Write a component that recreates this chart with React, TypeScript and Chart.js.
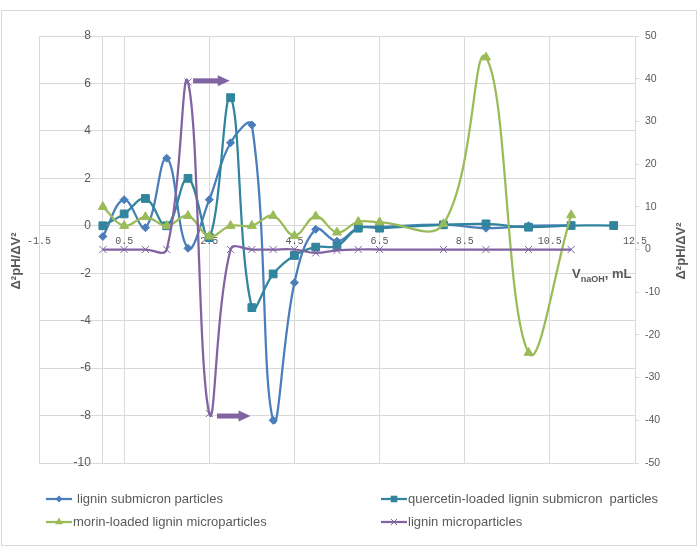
import React, { useEffect, useRef } from 'react';
import { Chart, registerables } from 'chart.js';

Chart.register(...registerables);

// ---------- data ----------
const xTickValues = [-1.5, 0.5, 2.5, 4.5, 6.5, 8.5, 10.5, 12.5];
const xTickLabels = ['-1.5', '0.5', '2.5', '4.5', '6.5', '8.5', '10.5', '12.5'];

const seriesNames = [
  'lignin submicron particles',
  'quercetin-loaded lignin submicron  particles',
  'morin-loaded lignin microparticles',
  'lignin microparticles',
];

const blueX = [0, 0.5, 1, 1.5, 2, 2.5, 3, 3.5, 4, 4.5, 5, 5.5, 6, 6.5, 8, 9, 10, 11];
const blueY = [-0.45, 1.1, -0.08, 2.85, -0.95, 1.1, 3.5, 4.25, -8.2, -2.4, -0.15, -0.65, -0.1, -0.05, 0.05, -0.1, 0.0, 0.02];

const tealX = [0, 0.5, 1, 1.5, 2, 2.5, 3, 3.5, 4, 4.5, 5, 5.5, 6, 6.5, 8, 9, 10, 11, 12];
const tealY = [0, 0.5, 1.15, 0, 2.0, -0.5, 5.4, -3.45, -2.03, -1.25, -0.9, -0.85, -0.1, -0.1, 0.04, 0.08, -0.06, 0.01, 0.01];

const greenX = [0, 0.5, 1, 1.5, 2, 2.5, 3, 3.5, 4, 4.5, 5, 5.5, 6, 6.5, 8, 9, 10, 11];
const greenY = [0.8, 0, 0.37, 0, 0.42, -0.45, 0, 0, 0.42, -0.42, 0.4, -0.28, 0.17, 0.15, 0.08, 7.1, -5.35, 0.45];

const purpleX = [0, 0.5, 1, 1.5, 2, 2.5, 3, 3.5, 4, 4.5, 5, 5.5, 6, 6.5, 8, 9, 10, 11];
const purpleY = [0, 0, 0, 0, 39.2, -38.4, 0, 0, 0, 0, -0.8, -0.2, 0, 0, 0, 0, 0, 0];

// annotation arrows (data coordinates, right axis)
const arrowFromX = [2.12, 2.68];
const arrowToX = [2.98, 3.47];
const arrowY1 = [39.5, -39];

const yTitle = 'Δ²pH/ΔV²';

// ---------- styles ----------
const COLORS = ['#4A7EBB', '#31859C', '#9BBB59', '#8064A2'];
const STYLES = ['rectRot', 'rect', 'triangle', 'crossRot'];
const RADII = [4, 5.5, 5.2, 5];
const GRID = '#D9D9D9';
const TEXT = '#595959';
const SANS = '"Liberation Sans", Arial, sans-serif';

const zip = (xs: number[], ys: number[]) => xs.map((x, i) => ({ x, y: ys[i] }));

function drawMarker(ctx: CanvasRenderingContext2D, style: string, x: number, y: number, r: number, color: string) {
  ctx.save();
  ctx.fillStyle = color;
  ctx.strokeStyle = color;
  ctx.lineWidth = 1;
  ctx.beginPath();
  if (style === 'rectRot') {
    ctx.moveTo(x, y - r);
    ctx.lineTo(x + r, y);
    ctx.lineTo(x, y + r);
    ctx.lineTo(x - r, y);
    ctx.closePath();
    ctx.fill();
  } else if (style === 'rect') {
    const s = r * Math.SQRT1_2;
    ctx.rect(x - s, y - s, 2 * s, 2 * s);
    ctx.fill();
  } else if (style === 'triangle') {
    const h = r * 1.5;
    const w = r * Math.sqrt(3) / 2;
    ctx.moveTo(x, y - r);
    ctx.lineTo(x + w, y + h - r);
    ctx.lineTo(x - w, y + h - r);
    ctx.closePath();
    ctx.fill();
  } else {
    const d = r * Math.SQRT1_2;
    ctx.moveTo(x - d, y - d);
    ctx.lineTo(x + d, y + d);
    ctx.moveTo(x - d, y + d);
    ctx.lineTo(x + d, y - d);
    ctx.stroke();
  }
  ctx.restore();
}

const decorPlugin = {
  id: 'decor',
  beforeDraw(chart: any) {
    const ctx = chart.ctx as CanvasRenderingContext2D;
    ctx.save();
    ctx.fillStyle = '#ffffff';
    ctx.fillRect(0, 0, chart.width, chart.height);
    ctx.strokeStyle = GRID;
    ctx.lineWidth = 1;
    ctx.strokeRect(1.5, 10.5, 695, 535);
    ctx.restore();
  },
  afterDatasetsDraw(chart: any) {
    // left axis tick labels, placed left of the axis line at x = 0
    const ctx = chart.ctx as CanvasRenderingContext2D;
    const xs = chart.scales.x;
    const ys = chart.scales.y;
    const ax = xs.getPixelForValue(0);
    ctx.save();
    ctx.fillStyle = TEXT;
    ctx.font = `12px ${SANS}`;
    ctx.textAlign = 'right';
    ctx.textBaseline = 'middle';
    ys.ticks.forEach((t: any) => {
      ctx.fillText(String(t.value), ax - 12, ys.getPixelForValue(t.value));
    });
    ctx.restore();
  },
  afterDraw(chart: any) {
    const ctx = chart.ctx as CanvasRenderingContext2D;
    const xs = chart.scales.x;
    const y1 = chart.scales.y1;

    // arrows
    ctx.save();
    ctx.fillStyle = COLORS[3];
    arrowFromX.forEach((fx, i) => {
      const x0 = xs.getPixelForValue(fx);
      const x1 = xs.getPixelForValue(arrowToX[i]);
      const y = y1.getPixelForValue(arrowY1[i]);
      const head = 12;
      ctx.fillRect(x0, y - 2.5, x1 - x0 - head + 1, 5);
      ctx.beginPath();
      ctx.moveTo(x1, y);
      ctx.lineTo(x1 - head, y - 5.5);
      ctx.lineTo(x1 - head, y + 5.5);
      ctx.closePath();
      ctx.fill();
    });
    ctx.restore();

    // axis titles
    ctx.save();
    ctx.fillStyle = TEXT;
    ctx.font = `bold 13px ${SANS}`;
    ctx.textAlign = 'center';
    ctx.textBaseline = 'middle';
    ctx.save();
    ctx.translate(16, 261);
    ctx.rotate(-Math.PI / 2);
    ctx.fillText(yTitle, 0, 0);
    ctx.restore();
    ctx.save();
    ctx.translate(681, 251);
    ctx.rotate(-Math.PI / 2);
    ctx.fillText(yTitle, 0, 0);
    ctx.restore();

    ctx.textAlign = 'left';
    ctx.textBaseline = 'alphabetic';
    let tx = 572;
    ctx.font = `bold 13px ${SANS}`;
    ctx.fillText('V', tx, 278);
    tx += ctx.measureText('V').width;
    ctx.font = `bold 9px ${SANS}`;
    ctx.fillText('naOH', tx, 282);
    tx += ctx.measureText('naOH').width;
    ctx.font = `bold 13px ${SANS}`;
    ctx.fillText(', mL', tx, 278);
    ctx.restore();

    // legend
    const items = [
      { i: 0, lx: 46, y: 499, tx: 77 },
      { i: 1, lx: 381, y: 499, tx: 408 },
      { i: 2, lx: 46, y: 522, tx: 73 },
      { i: 3, lx: 381, y: 522, tx: 408 },
    ];
    ctx.save();
    items.forEach((it) => {
      const c = COLORS[it.i];
      ctx.strokeStyle = c;
      ctx.lineWidth = 2.25;
      ctx.beginPath();
      ctx.moveTo(it.lx, it.y);
      ctx.lineTo(it.lx + 26, it.y);
      ctx.stroke();
      drawMarker(ctx, STYLES[it.i], it.lx + 13, it.y, RADII[it.i] * 0.85, c);
      ctx.fillStyle = TEXT;
      ctx.font = `13px ${SANS}`;
      ctx.textAlign = 'left';
      ctx.textBaseline = 'middle';
      ctx.fillText(chart.data.datasets[it.i].label, it.tx, it.y);
    });
    ctx.restore();
  },
};

export default function App() {
  const ref = useRef<HTMLCanvasElement>(null);

  useEffect(() => {
    if (!ref.current) return;
    const datasets = [
      { data: zip(blueX, blueY), yAxisID: 'y' },
      { data: zip(tealX, tealY), yAxisID: 'y' },
      { data: zip(greenX, greenY), yAxisID: 'y' },
      { data: zip(purpleX, purpleY), yAxisID: 'y1' },
    ].map((d, i) => ({
      ...d,
      label: seriesNames[i],
      borderColor: COLORS[i],
      backgroundColor: COLORS[i],
      pointBackgroundColor: COLORS[i],
      pointBorderColor: COLORS[i],
      pointBorderWidth: 1,
      pointStyle: STYLES[i],
      pointRadius: RADII[i],
      borderWidth: 2.25,
      tension: 0.4,
      fill: false,
      order: 3 - i,
    }));

    const chart = new Chart(ref.current, {
      type: 'line',
      data: { datasets },
      plugins: [decorPlugin],
      options: {
        animation: false,
        responsive: false,
        devicePixelRatio: 1,
        layout: { padding: { left: 39, top: 36, right: 0, bottom: 93 } },
        plugins: { legend: { display: false }, tooltip: { enabled: false } },
        scales: {
          x: {
            type: 'linear',
            min: -1.5,
            max: 12.5,
            position: { y: 0 } as any,
            afterBuildTicks: (s: any) => {
              s.ticks = xTickValues.map((v) => ({ value: v }));
            },
            ticks: {
              autoSkip: false,
              maxRotation: 0,
              padding: 10,
              color: TEXT,
              font: { family: '"Liberation Mono", monospace', size: 10 },
              callback: (_v: any, idx: number) => xTickLabels[idx],
            },
            grid: { color: GRID, drawTicks: false },
            border: { display: true, color: GRID },
          },
          y: {
            type: 'linear',
            min: -10,
            max: 8,
            position: { x: 0 } as any,
            ticks: {
              stepSize: 2,
              display: false,
            },
            grid: { color: GRID, drawTicks: false },
            border: { display: true, color: GRID },
          },
          y1: {
            type: 'linear',
            position: 'right',
            min: -50,
            max: 50,
            afterFit: (s: any) => {
              s.width = 63;
            },
            ticks: {
              stepSize: 10,
              padding: 6,
              color: TEXT,
              font: { family: SANS, size: 10.5 },
            },
            grid: { drawOnChartArea: false, drawTicks: true, tickLength: 4, color: GRID },
            border: { display: true, color: GRID },
          },
        },
      } as any,
    });
    return () => chart.destroy();
  }, []);

  return (
    <div style={{ position: 'absolute', left: 0, top: 0, width: 698, height: 556 }}>
      <canvas ref={ref} width={698} height={556} style={{ display: 'block', width: 698, height: 556 }} />
    </div>
  );
}
